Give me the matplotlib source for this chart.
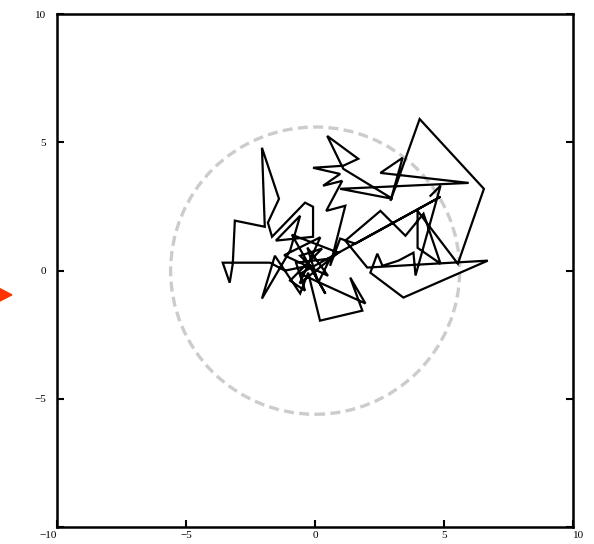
import matplotlib
matplotlib.use("Agg")
import matplotlib.pyplot as plt
import numpy as np
from matplotlib.patches import Circle, Polygon

# random walk vertices
walk_x = [0.00, -0.58, 0.27, -0.97, -0.39, -0.74, 0.58, 0.12, -0.30, 0.50,
          -1.20, 0.20, -0.60, 0.90, -0.90, 0.40, -0.20, -1.17, -1.75,
          -3.58, -3.31, -3.19, -3.11, -1.95, -2.06, -1.40, -1.83, -1.67, -0.39,
          -0.08, -0.08, -1.52, -0.58, -0.97, -2.06, -1.56, -0.58, -0.27, 0.19,
          1.83, 1.36, 1.95, -0.58, 4.86, 1.56, 0.97, 0.58, 1.17, 0.43,
          1.05, 0.31, 0.97, -0.08, 1.09, 1.67, 0.47, 1.09, 3.00, 0.97,
          5.95, 2.53, 3.39, 2.92, 4.05, 6.54, 5.53, 3.97, 3.97, 4.86,
          4.20, 3.50, 2.53, 1.17, 2.02, 6.69, 3.42, 2.14, 2.41, 2.61,
          3.23, 3.81, 3.89, 4.86, 4.47]
walk_y = [0.00, 0.58, 0.86, -0.39, -0.78, 0.31, 0.47, -0.47, 0.90, -0.20,
          0.60, 1.30, -0.50, 0.70, 1.40, -0.90, 0.20, 0.00, 0.31,
          0.31, -0.47, 0.27, 1.95, 1.71, 4.79, 2.80, 1.87, 1.32, 2.65,
          2.49, 1.32, 1.17, 2.14, 0.78, -1.09, 0.58, -0.89, -0.08, -1.95,
          -1.56, -0.27, -1.28, -0.12, 2.88, 1.05, 1.25, 0.19, 2.53, 2.33,
          3.50, 3.31, 3.77, 4.01, 4.09, 4.36, 5.25, 3.97, 2.80, 3.19,
          3.42, 3.81, 4.40, 2.72, 5.91, 3.19, 0.27, 2.33, 0.89, 0.27,
          2.22, 1.36, 2.33, 1.17, 0.12, 0.39, -1.05, -0.08, 0.66, 0.19,
          0.39, 0.70, -0.19, 3.31, 2.92]

circle_r = 5.6
ticks = [-10, -5, 0, 5, 10]
xtick_labels = ["\u221210", "\u22125", "0", "5", "10"]
ytick_labels = ["", "\u22125", "0", "5", "10"]

fig = plt.figure(figsize=(5.94, 5.44), dpi=100)
ax = fig.add_axes([0.096, 0.031, 0.869, 0.943])

ax.add_patch(Circle((0, 0), circle_r, fill=False, edgecolor="#cccccc",
                    linewidth=2.4, linestyle=(0, (3.0, 1.6))))
ax.plot(walk_x, walk_y, color="black", linewidth=1.6, solid_joinstyle="miter")

ax.set_xlim(-10, 10)
ax.set_ylim(-10, 10)
ax.set_xticks(ticks)
ax.set_yticks(ticks)
ax.set_xticklabels(xtick_labels, fontfamily="Liberation Serif", fontsize=8)
ax.set_yticklabels(ytick_labels, fontfamily="Liberation Serif", fontsize=8)
ax.tick_params(direction="in", length=5, width=1.5, right=True, top=False, pad=3)
ax.tick_params(axis="y", pad=8)
labs = ax.get_xticklabels()
labs[0].set_horizontalalignment("right")
labs[-1].set_horizontalalignment("left")
for s in ax.spines.values():
    s.set_linewidth(1.8)

# red arrow at the left edge
fig.patches.append(Polygon([[-0.01, 0.475], [0.02, 0.458], [-0.01, 0.441]],
                           closed=True, color="#ff3300", transform=fig.transFigure,
                           figure=fig))

fig.savefig("out.png", dpi=100)
